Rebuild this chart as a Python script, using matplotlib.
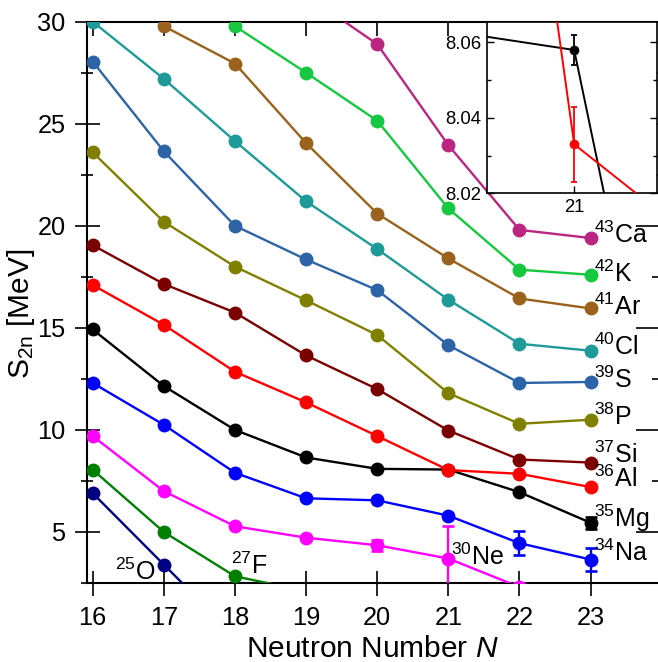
import numpy as np
import matplotlib
matplotlib.use("Agg")
import matplotlib.pyplot as plt
from matplotlib.ticker import MultipleLocator, FormatStrFormatter

plt.rcParams['font.family'] = ['Liberation Sans', 'DejaVu Sans']
plt.rcParams['mathtext.fontset'] = 'custom'
plt.rcParams['mathtext.rm'] = 'Liberation Sans'
plt.rcParams['mathtext.it'] = 'Liberation Sans:italic'
plt.rcParams['mathtext.bf'] = 'Liberation Sans:bold'

# ---------------- data ----------------
isotopes = ['O', 'F', 'Ne', 'Na', 'Mg', 'Al', 'Si', 'P', 'S', 'Cl', 'Ar', 'K', 'Ca']
labels = ['$^{25}$O', '$^{27}$F', '$^{30}$Ne', '$^{34}$Na', '$^{35}$Mg', '$^{36}$Al',
          '$^{37}$Si', '$^{38}$P', '$^{39}$S', '$^{40}$Cl', '$^{41}$Ar', '$^{42}$K', '$^{43}$Ca']
colors = ['#000080', '#007F00', '#FF00FF', '#0000FF', '#000000', '#FF0000',
          '#7B0000', '#808000', '#2D64A8', '#1E9A98', '#9A621C', '#16C83F', '#BA2680']

N_O = [16, 17, 18]
S_O = [6.9, 3.4, -0.1]
N_F = [16, 17, 18, 19]
S_F = [8.05, 5.0, 2.83, 2.1]
N_Ne = [16, 17, 18, 19, 20, 21, 22]
S_Ne = [9.7, 7.0, 5.28, 4.72, 4.35, 3.7, 2.3]
E_Ne = [0, 0, 0, 0, 0.28, 1.6, 0.2]
N_Na = [16, 17, 18, 19, 20, 21, 22, 23]
S_Na = [12.3, 10.25, 7.9, 6.65, 6.55, 5.8, 4.45, 3.65]
E_Na = [0, 0, 0, 0, 0, 0, 0.6, 0.55]
N_Mg = [16, 17, 18, 19, 20, 21, 22, 23]
S_Mg = [14.92, 12.15, 10.0, 8.65, 8.093, 8.058, 6.95, 5.45]
E_Mg = [0, 0, 0, 0, 0, 0.004, 0, 0.3]
N_Al = [16, 17, 18, 19, 20, 21, 22, 23]
S_Al = [17.1, 15.15, 12.85, 11.35, 9.7, 8.033, 7.85, 7.2]
E_Al = [0, 0, 0, 0, 0, 0.010, 0, 0]
N_Si = [16, 17, 18, 19, 20, 21, 22, 23]
S_Si = [19.05, 17.15, 15.75, 13.65, 12.0, 9.97, 8.55, 8.4]
N_P = [16, 17, 18, 19, 20, 21, 22, 23]
S_P = [23.6, 20.2, 18.0, 16.35, 14.65, 11.8, 10.3, 10.5]
N_S = [16, 17, 18, 19, 20, 21, 22, 23]
S_S = [28.05, 23.65, 20.0, 18.35, 16.85, 14.15, 12.3, 12.35]
N_Cl = [16, 17, 18, 19, 20, 21, 22, 23]
S_Cl = [30.0, 27.2, 24.15, 21.2, 18.86, 16.38, 14.22, 13.88]
N_Ar = [17, 18, 19, 20, 21, 22, 23]
S_Ar = [29.78, 27.95, 24.05, 20.6, 18.4, 16.44, 15.95]
N_K = [18, 19, 20, 21, 22, 23]
S_K = [29.78, 27.5, 25.15, 20.85, 17.85, 17.6]
N_Ca = [19, 20, 21, 22, 23]
S_Ca = [31.3, 28.9, 23.95, 19.8, 19.4]

xs = [N_O, N_F, N_Ne, N_Na, N_Mg, N_Al, N_Si, N_P, N_S, N_Cl, N_Ar, N_K, N_Ca]
ys = [S_O, S_F, S_Ne, S_Na, S_Mg, S_Al, S_Si, S_P, S_S, S_Cl, S_Ar, S_K, S_Ca]
errs = [None, None, E_Ne, E_Na, E_Mg, E_Al, None, None, None, None, None, None, None]

# label anchor positions (N, S2n baseline)
label_pos = [(16.31, 2.63), (17.95, 2.93), (21.04, 3.37), (23.05, 3.58), (23.05, 5.25),
             (23.05, 7.18), (23.05, 8.38), (23.05, 10.23), (23.05, 12.03), (23.05, 13.66),
             (23.05, 15.62), (23.05, 17.25), (23.05, 19.14)]

xticks = [16, 17, 18, 19, 20, 21, 22, 23]
yticks = [5, 10, 15, 20, 25, 30]

# ---------------- figure ----------------
W, H = 658, 662
fig = plt.figure(figsize=(W / 100, H / 100), dpi=100)
ax = fig.add_axes([87 / W, 1 - 583 / H, (657.5 - 87) / W, (583 - 21.7) / H])

for x, y, e, c in zip(xs, ys, errs, colors):
    ax.plot(x, y, '-', color=c, lw=1.7, marker='o', ms=10, mec='none', zorder=3)
    if e is not None:
        x_a, y_a, e_a = np.array(x), np.array(y), np.array(e)
        m = e_a > 0
        ax.errorbar(x_a[m], y_a[m], yerr=e_a[m], fmt='none', ecolor=c, elinewidth=1.7,
                    capsize=4.5, capthick=1.9, zorder=3)

for (lx, ly), lab in zip(label_pos, labels):
    ax.text(lx, ly, lab, fontsize=18, ha='left', va='baseline', zorder=4)

ax.set_xlim(15.92, 23.94)
ax.set_ylim(2.5, 30)
ax.set_xticks(xticks)
ax.set_yticks(yticks)
ax.yaxis.set_minor_locator(MultipleLocator(2.5))
ax.tick_params(axis='both', which='major', direction='inout', length=18, width=1.2,
               labelsize=18.3, top=False, right=False)
ax.tick_params(axis='y', which='major', pad=6.5)
ax.tick_params(axis='x', which='major', pad=7.5)
ax.tick_params(axis='y', which='minor', direction='inout', length=8, width=1.2, right=False)
for s in ['left', 'bottom', 'top']:
    ax.spines[s].set_linewidth(1.5)
ax.spines['right'].set_visible(False)

sec_top = ax.secondary_xaxis('top')
sec_top.set_xticks(xticks)
sec_top.tick_params(direction='in', length=10, width=1.2, labeltop=False)
sec_top.spines['top'].set_visible(False)

sec_right = ax.secondary_yaxis('right')
sec_right.set_yticks(yticks)
sec_right.yaxis.set_minor_locator(MultipleLocator(2.5))
sec_right.tick_params(which='major', direction='in', length=16, width=1.2, labelright=False)
sec_right.tick_params(which='minor', direction='in', length=4, width=1.2)
sec_right.spines['right'].set_visible(False)

ax.set_xlabel('Neutron Number $\\mathit{N}$', fontsize=21.5)
ax.set_ylabel('S$_{\\mathrm{2n}}$ [MeV]', fontsize=21.5)
ax.xaxis.set_label_coords(0.5, -0.0935)
ax.yaxis.set_label_coords(-0.087, 0.48)

# ---------------- inset ----------------
axi = fig.add_axes([487 / W, 1 - 193.3 / H, (657 - 487) / W, (193.3 - 21.7) / H])
axi.set_facecolor('white')
for idx in (4, 5):
    x_a, y_a, e_a = np.array(xs[idx]), np.array(ys[idx]), np.array(errs[idx])
    axi.plot(x_a, y_a, '-', color=colors[idx], lw=1.4, marker='o', ms=7, mec='none', zorder=3)
    m = e_a > 0
    axi.errorbar(x_a[m], y_a[m], yerr=e_a[m], fmt='none', ecolor=colors[idx], elinewidth=1.3,
                 capsize=2.2, capthick=1.3, zorder=3)
axi.set_xlim(20.9, 21.095)
axi.set_ylim(8.02, 8.0655)
axi.set_xticks([21])
axi.set_yticks([8.02, 8.04, 8.06])
axi.yaxis.set_minor_locator(MultipleLocator(0.01))
axi.yaxis.set_major_formatter(FormatStrFormatter('%.2f'))
axi.tick_params(which='major', direction='in', length=5, width=1, labelsize=13.3,
                left=True, right=True, top=False, bottom=True, pad=4)
axi.tick_params(which='minor', direction='in', length=3, width=1, left=True, right=True)
for s in axi.spines.values():
    s.set_linewidth(1.2)

fig.savefig('out.png', dpi=100)
